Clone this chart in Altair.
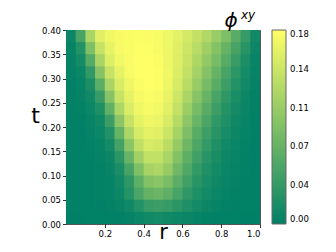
import altair as alt
import pandas as pd

# grid cell centres
r_centers = [0.025, 0.075, 0.125, 0.175, 0.225, 0.275, 0.325, 0.375, 0.425, 0.475,
             0.525, 0.575, 0.625, 0.675, 0.725, 0.775, 0.825, 0.875, 0.925, 0.975]
t_centers = [0.0125, 0.0375, 0.0625, 0.0875, 0.1125, 0.1375, 0.1625, 0.1875,
             0.2125, 0.2375, 0.2625, 0.2875, 0.3125, 0.3375, 0.3625, 0.3875]
dr = 0.05
dt = 0.025

# phi^xy values, one row per t (bottom to top), one column per r
phi_rows = [
    [0.000, 0.000, 0.001, 0.001, 0.001, 0.002, 0.004, 0.008, 0.012, 0.014, 0.013, 0.010, 0.007, 0.005, 0.003, 0.002, 0.001, 0.001, 0.000, 0.000],
    [0.001, 0.001, 0.001, 0.002, 0.003, 0.005, 0.012, 0.025, 0.038, 0.042, 0.038, 0.030, 0.021, 0.014, 0.009, 0.005, 0.003, 0.002, 0.001, 0.001],
    [0.001, 0.001, 0.002, 0.003, 0.004, 0.010, 0.027, 0.052, 0.071, 0.075, 0.067, 0.050, 0.034, 0.022, 0.014, 0.008, 0.005, 0.003, 0.002, 0.001],
    [0.001, 0.001, 0.002, 0.003, 0.004, 0.012, 0.033, 0.066, 0.092, 0.098, 0.087, 0.065, 0.045, 0.029, 0.018, 0.011, 0.006, 0.004, 0.002, 0.001],
    [0.001, 0.001, 0.002, 0.003, 0.006, 0.019, 0.050, 0.090, 0.118, 0.122, 0.106, 0.080, 0.056, 0.036, 0.023, 0.014, 0.008, 0.005, 0.003, 0.001],
    [0.001, 0.001, 0.002, 0.004, 0.009, 0.030, 0.073, 0.114, 0.136, 0.136, 0.119, 0.092, 0.066, 0.045, 0.029, 0.018, 0.010, 0.006, 0.003, 0.001],
    [0.001, 0.002, 0.003, 0.005, 0.014, 0.048, 0.098, 0.135, 0.151, 0.149, 0.132, 0.105, 0.077, 0.054, 0.036, 0.022, 0.013, 0.007, 0.004, 0.002],
    [0.001, 0.002, 0.004, 0.008, 0.024, 0.072, 0.121, 0.151, 0.162, 0.159, 0.143, 0.117, 0.088, 0.063, 0.044, 0.028, 0.017, 0.009, 0.005, 0.002],
    [0.001, 0.002, 0.005, 0.013, 0.042, 0.098, 0.139, 0.161, 0.169, 0.166, 0.152, 0.128, 0.099, 0.074, 0.052, 0.034, 0.021, 0.011, 0.006, 0.002],
    [0.001, 0.003, 0.008, 0.022, 0.068, 0.122, 0.153, 0.168, 0.174, 0.171, 0.159, 0.137, 0.110, 0.085, 0.062, 0.042, 0.026, 0.014, 0.007, 0.003],
    [0.002, 0.004, 0.012, 0.040, 0.095, 0.140, 0.162, 0.173, 0.177, 0.175, 0.164, 0.145, 0.121, 0.096, 0.073, 0.051, 0.033, 0.018, 0.009, 0.003],
    [0.002, 0.005, 0.020, 0.065, 0.120, 0.153, 0.169, 0.177, 0.180, 0.178, 0.168, 0.151, 0.130, 0.107, 0.084, 0.062, 0.042, 0.025, 0.012, 0.004],
    [0.003, 0.008, 0.035, 0.095, 0.140, 0.163, 0.174, 0.179, 0.180, 0.178, 0.170, 0.155, 0.137, 0.116, 0.094, 0.072, 0.051, 0.031, 0.015, 0.005],
    [0.004, 0.014, 0.060, 0.120, 0.155, 0.170, 0.176, 0.179, 0.180, 0.177, 0.169, 0.157, 0.141, 0.123, 0.103, 0.083, 0.061, 0.040, 0.020, 0.006],
    [0.005, 0.025, 0.090, 0.140, 0.163, 0.173, 0.177, 0.179, 0.178, 0.175, 0.168, 0.158, 0.145, 0.130, 0.112, 0.093, 0.072, 0.050, 0.028, 0.008],
    [0.008, 0.050, 0.120, 0.158, 0.170, 0.175, 0.177, 0.178, 0.177, 0.174, 0.168, 0.160, 0.150, 0.138, 0.125, 0.108, 0.088, 0.063, 0.038, 0.012],
]

x_ticks = [0.2, 0.4, 0.6, 0.8, 1.0]
y_ticks = [0.0, 0.05, 0.10, 0.15, 0.20, 0.25, 0.30, 0.35, 0.40]
cbar_ticks = [0.0, 0.036, 0.072, 0.108, 0.144, 0.18]

# small overlap between neighbouring cells so no anti-aliasing seams show
ovr = 0.004
ovt = 0.002
records = []
for i, t in enumerate(t_centers):
    for j, r in enumerate(r_centers):
        records.append({"r0": r - dr / 2, "r1": r + dr / 2 + ovr,
                        "t0": t - dt / 2, "t1": t + dt / 2 + ovt,
                        "phi": phi_rows[i][j]})
df = pd.DataFrame(records)

FONT = "DejaVu Sans"
cscale = alt.Scale(domain=[0, 0.18], range=["#008066", "#ffff66"], interpolate="rgb")

heat = alt.Chart(df).mark_rect(clip=True).encode(
    x=alt.X("r0:Q", scale=alt.Scale(domain=[0, 1], nice=False, zero=False),
            axis=alt.Axis(values=x_ticks, format=".1f", title="r",
                          titleFontSize=21, titleFontWeight="normal",
                          titleBaseline="alphabetic", titleY=14)),
    x2="r1:Q",
    y=alt.Y("t0:Q", scale=alt.Scale(domain=[0, 0.4], nice=False, zero=False),
            axis=alt.Axis(values=y_ticks, format=".2f", title="t",
                          titleFontSize=22, titleFontWeight="normal", titleAngle=0,
                          titleAlign="center", titleBaseline="alphabetic",
                          titleX=-31, titleY=92)),
    y2="t1:Q",
    color=alt.Color("phi:Q", scale=cscale,
                    legend=alt.Legend(type="gradient", title=None, orient="none",
                                      legendX=206, legendY=0,
                                      direction="vertical", gradientLength=194,
                                      gradientThickness=14, gradientStrokeColor="#666",
                                      gradientStrokeWidth=1, values=cbar_ticks,
                                      format=".2f", labelFontSize=8.5, labelFont=FONT,
                                      labelColor="#000", labelOverlap=False,
                                      labelOffset=4, labelBaseline="middle")),
)

label_df = pd.DataFrame({"k": [0]})
phi_txt = alt.Chart(label_df).mark_text(
    text="ϕ", font=FONT, fontSize=20, fontStyle="italic", align="center",
    baseline="alphabetic", color="#000"
).encode(x=alt.value(165), y=alt.value(-3))
xy_txt = alt.Chart(label_df).mark_text(
    text="xy", font=FONT, fontSize=12, fontStyle="italic", align="left",
    baseline="alphabetic", color="#000"
).encode(x=alt.value(175), y=alt.value(-11))

chart = alt.layer(heat, phi_txt, xy_txt).properties(
    width=194, height=194,
    autosize=alt.AutoSizeParams(type="none"),
    padding={"left": 58, "top": 22, "right": 68, "bottom": 20},
).configure_view(stroke="#555", strokeWidth=1).configure_axis(
    labelFont=FONT, titleFont=FONT, labelFontSize=8.5, labelColor="#000",
    titleColor="#000", domain=False, grid=False, tickColor="#000", tickSize=3.5,
    tickWidth=0.8, labelPadding=2,
)

chart.save("out.html", embed_options={"renderer": "svg", "actions": False})
